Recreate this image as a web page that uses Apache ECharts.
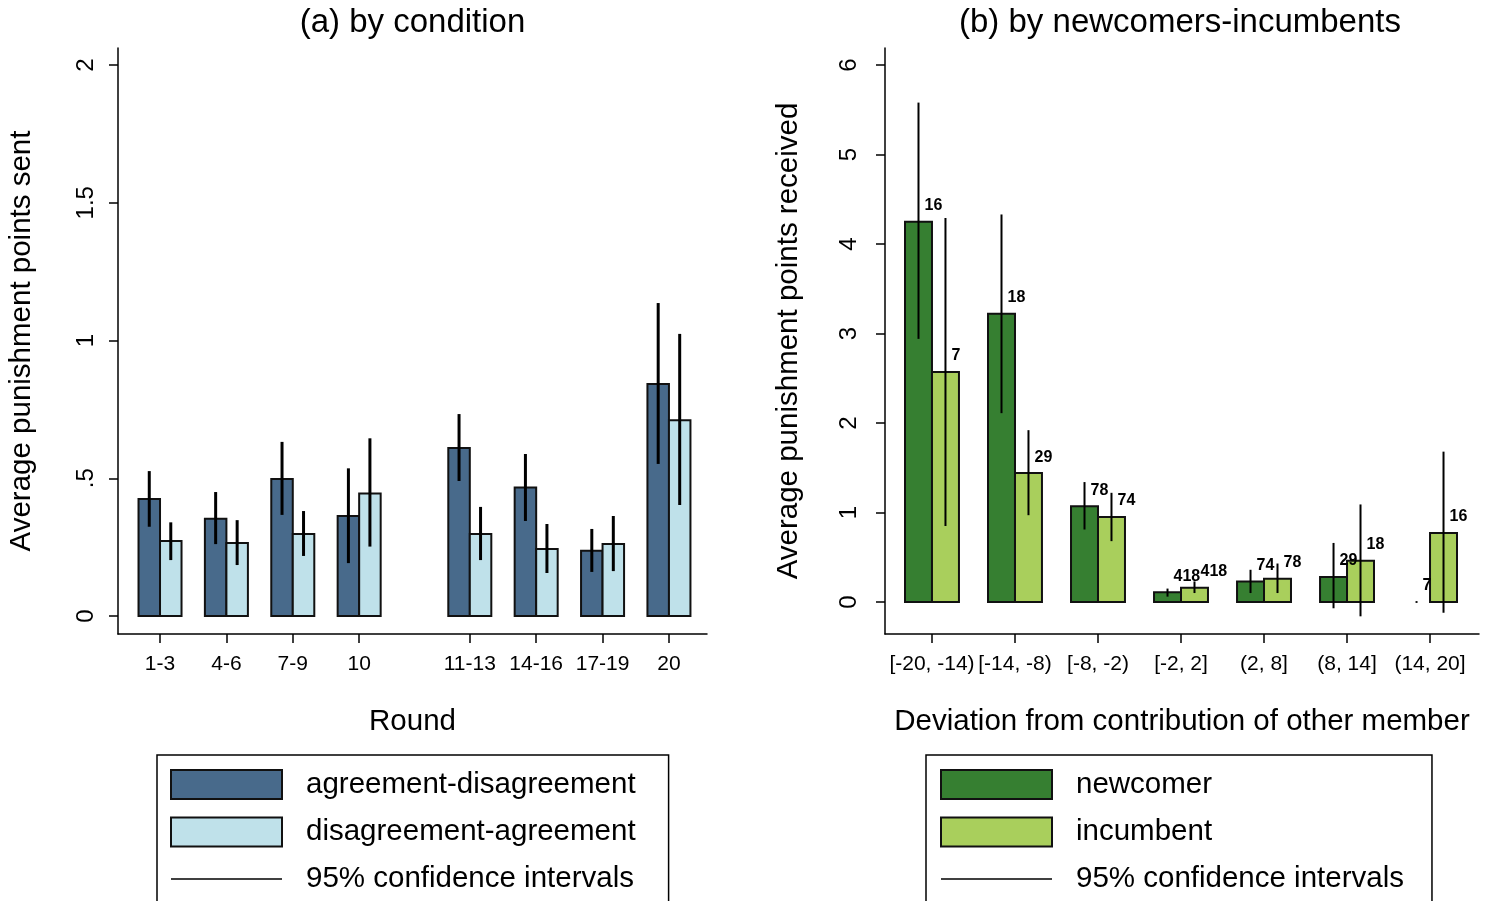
<!DOCTYPE html>
<html><head><meta charset="utf-8">
<script src="https://cdn.jsdelivr.net/npm/echarts@6/dist/echarts.min.js"></script>
<style>html,body{margin:0;padding:0;background:#fff}#c{width:1487px;height:901px}</style>
</head><body><div id="c"></div>
<script>
// ---------- Panel (a) data ----------
const roundLabels = ['1-3','4-6','7-9','10','11-13','14-16','17-19','20'];
const agreeDisMean = [0.425,0.353,0.497,0.363,0.610,0.466,0.237,0.842];
const agreeDisLo   = [0.324,0.261,0.367,0.192,0.490,0.345,0.160,0.552];
const agreeDisHi   = [0.526,0.450,0.632,0.536,0.733,0.588,0.316,1.136];
const disAgreeMean = [0.272,0.265,0.298,0.445,0.298,0.243,0.261,0.711];
const disAgreeLo   = [0.203,0.185,0.218,0.252,0.203,0.156,0.163,0.403];
const disAgreeHi   = [0.340,0.348,0.381,0.645,0.396,0.334,0.363,1.024];
const leftTicks = [0, 0.5, 1, 1.5, 2];

// ---------- Panel (b) data ----------
const devLabels = ['[-20, -14)','[-14, -8)','[-8, -2)','[-2, 2]','(2, 8]','(8, 14]','(14, 20]'];
const newcomerMean = [4.25,3.22,1.07,0.11,0.23,0.28,0];
const newcomerLo   = [2.94,2.11,0.81,0.06,0.10,-0.07,0];
const newcomerHi   = [5.58,4.33,1.34,0.15,0.36,0.66,0];
const newcomerN    = [16,18,78,418,74,29,7];
const incumbentMean = [2.57,1.44,0.95,0.16,0.26,0.46,0.77];
const incumbentLo   = [0.85,0.97,0.68,0.10,0.10,-0.16,-0.12];
const incumbentHi   = [4.29,1.92,1.22,0.23,0.43,1.09,1.68];
const incumbentN    = [7,29,74,418,78,18,16];
const rightTicks = [0,1,2,3,4,5,6];

// ---------- layout helpers ----------
const FONT = '"Liberation Sans", Arial, sans-serif';
const leftPos = roundLabels.map((_, i) => i < 4 ? i : i + 2/3);
const rightPos = devLabels.map((_, i) => i);
const WL = 0.324, WR = 0.325;
const C = {dA:'#486a8b', lA:'#bfe1ea', dB:'#367f31', lB:'#a9cf5c', edge:'#111'};

function barRender(side, w, fill) {
  return function (params, api) {
    const x = api.value(0), v = api.value(1);
    if (!v) return null;
    const a = api.coord([side < 0 ? x - w : x, 0]);
    const b = api.coord([side < 0 ? x : x + w, v]);
    return {type:'rect', shape:{x:a[0], y:b[1], width:b[0]-a[0], height:a[1]-b[1]},
            style:{fill:fill, stroke:C.edge, lineWidth:2}};
  };
}
function ciRender(w, lw) {
  return function (params, api) {
    const x = api.value(0) + api.value(3) * w / 2;
    const a = api.coord([x, api.value(1)]);
    const b = api.coord([x, api.value(2)]);
    let y1 = a[1], y2 = b[1];
    if (Math.abs(y1 - y2) < 1.5) { y1 += 0.9; y2 -= 0.9; }
    return {type:'line', shape:{x1:a[0], y1:y1, x2:b[0], y2:y2}, style:{stroke:'#000', lineWidth:lw}};
  };
}
function labelRender(w) {
  return function (params, api) {
    const x = api.value(0) + api.value(3) * w / 2;
    const p = api.coord([x, api.value(1)]);
    return {type:'text', x:p[0] + 6, y:p[1] - 8,
            style:{text:String(api.value(2)), fill:'#000', font:'bold 16px ' + FONT,
                   align:'left', verticalAlign:'bottom'}};
  };
}

const ciLeft = [], ciRight = [], lblRight = [];
leftPos.forEach((p, i) => { ciLeft.push([p, agreeDisLo[i], agreeDisHi[i], -1]); ciLeft.push([p, disAgreeLo[i], disAgreeHi[i], 1]); });
rightPos.forEach((p, i) => {
  ciRight.push([p, newcomerLo[i], newcomerHi[i], -1]); ciRight.push([p, incumbentLo[i], incumbentHi[i], 1]);
  lblRight.push([p, newcomerMean[i], newcomerN[i], -1]); lblRight.push([p, incumbentMean[i], incumbentN[i], 1]);
});

const axLine = {show:true, onZero:false, lineStyle:{color:'#000', width:1.5}};
const axTick = (vals) => ({show:true, customValues:vals, length:9, lineStyle:{color:'#000', width:1.5}});
const nameStyle = {fontSize:29.5, color:'#000', fontFamily:FONT};
const fmtY = v => (Math.abs(v - 0.5) < 1e-9 ? '.5' : String(v));
const ciLegendItem = {name:'95% confidence intervals', itemStyle:{opacity:0}, lineStyle:{color:'#000', width:1.4}};
const legendText = {fontSize:29.5, color:'#000', lineHeight:30, padding:[0,0,0,19], fontFamily:FONT};

const option = {
  animation:false,
  backgroundColor:'#fff',
  textStyle:{fontFamily:FONT, color:'#000'},
  title:[
    {text:'(a) by condition', left:412.5, top:6, textAlign:'center', padding:0,
     textStyle:{fontSize:33, fontWeight:'normal', color:'#000', fontFamily:FONT}},
    {text:'(b) by newcomers-incumbents', left:1180, top:6, textAlign:'center', padding:0,
     textStyle:{fontSize:33, fontWeight:'normal', color:'#000', fontFamily:FONT}}
  ],
  grid:[
    {left:118, top:48, width:589, height:586, outerBoundsMode:'none', containLabel:false},
    {left:885, top:48, width:594, height:586, outerBoundsMode:'none', containLabel:false}
  ],
  xAxis:[
    {gridIndex:0, type:'value', min:-0.633, max:8.24, axisLine:axLine, axisTick:axTick(leftPos),
     splitLine:{show:false},
     axisLabel:{customValues:leftPos, hideOverlap:false, fontSize:21, color:'#000', margin:20,
       formatter:v => { const i = leftPos.findIndex(p => Math.abs(p - v) < 1e-6); return i >= 0 ? roundLabels[i] : ''; }},
     name:'Round', nameLocation:'middle', nameGap:73, nameTextStyle:nameStyle},
    {gridIndex:1, type:'value', min:-0.566, max:6.59, axisLine:axLine, axisTick:axTick(rightPos),
     splitLine:{show:false},
     axisLabel:{customValues:rightPos, hideOverlap:false, fontSize:21, color:'#000', margin:20,
       formatter:v => { const i = rightPos.findIndex(p => Math.abs(p - v) < 1e-6); return i >= 0 ? devLabels[i] : ''; }},
     name:'Deviation from contribution of other member', nameLocation:'middle', nameGap:73, nameTextStyle:nameStyle}
  ],
  yAxis:[
    {gridIndex:0, type:'value', min:-0.0653, max:2.0617, axisLine:axLine, axisTick:axTick(leftTicks),
     splitLine:{show:false},
     axisLabel:{customValues:leftTicks, rotate:90, fontSize:24, color:'#000', margin:20, formatter:fmtY},
     name:'Average punishment points sent', nameLocation:'middle', nameGap:81, nameRotate:90, nameTextStyle:nameStyle},
    {gridIndex:1, type:'value', min:-0.3575, max:6.19, axisLine:axLine, axisTick:axTick(rightTicks),
     splitLine:{show:false},
     axisLabel:{customValues:rightTicks, rotate:90, fontSize:24, color:'#000', margin:24, formatter:fmtY},
     name:'Average punishment points received', nameLocation:'middle', nameGap:81, nameRotate:90, nameTextStyle:nameStyle}
  ],
  legend:[
    {left:157, top:755, height:400, orient:'vertical', itemWidth:111, itemHeight:29, itemGap:16.5,
     padding:[14,33,80,13], borderColor:'#000', borderWidth:1.5, selectedMode:false, textStyle:legendText,
     data:[{name:'agreement-disagreement', icon:'rect'}, {name:'disagreement-agreement', icon:'rect'}, ciLegendItem]},
    {left:926, top:755, height:400, orient:'vertical', itemWidth:111, itemHeight:29, itemGap:16.5,
     padding:[14,28,80,14], borderColor:'#000', borderWidth:1.5, selectedMode:false, textStyle:legendText,
     data:[{name:'newcomer', icon:'rect'}, {name:'incumbent', icon:'rect'}, ciLegendItem]}
  ],
  series:[
    {name:'95% confidence intervals', type:'line', xAxisIndex:0, yAxisIndex:0, data:[], symbol:'none',
     lineStyle:{color:'#000', width:1.4}, itemStyle:{color:'#000'}},
    {name:'agreement-disagreement', type:'custom', xAxisIndex:0, yAxisIndex:0,
     itemStyle:{color:C.dA, borderColor:C.edge, borderWidth:2}, encode:{x:0, y:1},
     data:leftPos.map((p, i) => [p, agreeDisMean[i]]), renderItem:barRender(-1, WL, C.dA)},
    {name:'disagreement-agreement', type:'custom', xAxisIndex:0, yAxisIndex:0,
     itemStyle:{color:C.lA, borderColor:C.edge, borderWidth:2}, encode:{x:0, y:1},
     data:leftPos.map((p, i) => [p, disAgreeMean[i]]), renderItem:barRender(1, WL, C.lA)},
    {name:'95% confidence intervals', type:'custom', xAxisIndex:0, yAxisIndex:0, itemStyle:{color:'#000'},
     encode:{x:0, y:[1,2]}, data:ciLeft, renderItem:ciRender(WL, 3), z:3},
    {name:'newcomer', type:'custom', xAxisIndex:1, yAxisIndex:1,
     itemStyle:{color:C.dB, borderColor:C.edge, borderWidth:2}, encode:{x:0, y:1},
     data:rightPos.map((p, i) => [p, newcomerMean[i]]), renderItem:barRender(-1, WR, C.dB)},
    {name:'incumbent', type:'custom', xAxisIndex:1, yAxisIndex:1,
     itemStyle:{color:C.lB, borderColor:C.edge, borderWidth:2}, encode:{x:0, y:1},
     data:rightPos.map((p, i) => [p, incumbentMean[i]]), renderItem:barRender(1, WR, C.lB)},
    {name:'95% confidence intervals', type:'custom', xAxisIndex:1, yAxisIndex:1, itemStyle:{color:'#000'},
     encode:{x:0, y:[1,2]}, data:ciRight, renderItem:ciRender(WR, 2), z:3},
    {name:'group size', type:'custom', xAxisIndex:1, yAxisIndex:1, encode:{x:0, y:1},
     data:lblRight, renderItem:labelRender(WR), z:4}
  ]
};
const chart = echarts.init(document.getElementById('c'), null, {renderer:'canvas'});
chart.setOption(option);
</script></body></html>
